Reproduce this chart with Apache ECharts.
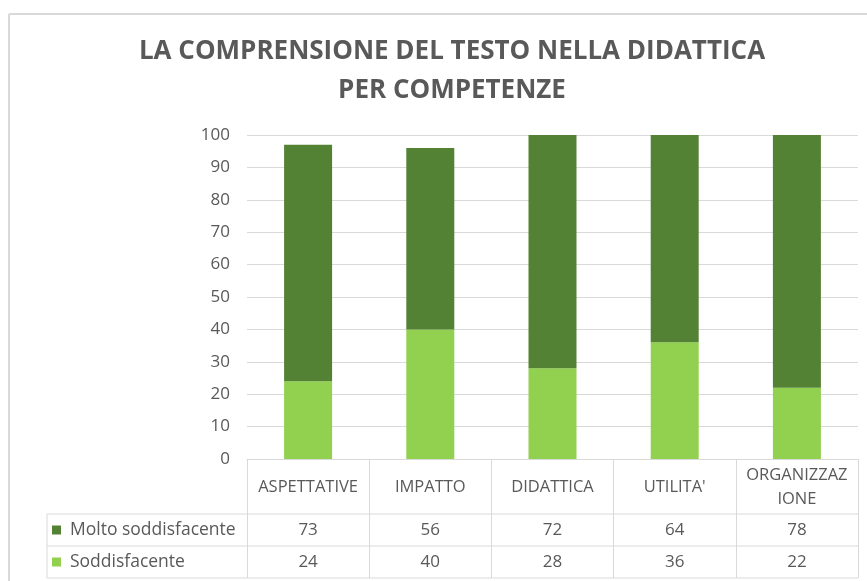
<!DOCTYPE html>
<html>
<head>
<meta charset="utf-8">
<script src="https://cdn.jsdelivr.net/npm/echarts@6/dist/echarts.min.js"></script>
<style>
  html, body { margin: 0; padding: 0; background: #fff; }
  #main { width: 867px; height: 581px; }
</style>
</head>
<body>
<div id="main"></div>
<script>
// categorie e valori
var categories = ['ASPETTATIVE', 'IMPATTO', 'DIDATTICA', "UTILITA'", 'ORGANIZZAZIONE'];
var molto = [73, 56, 72, 64, 78];
var soddisfacente = [24, 40, 28, 36, 22];
var seriesNames = ['Molto soddisfacente', 'Soddisfacente'];
var yTicks = [0, 10, 20, 30, 40, 50, 60, 70, 80, 90, 100];

var colDark = '#548235';
var colLight = '#92d050';
var txt = '#595959';
var lineCol = '#d9d9d9';
var font = 'Open Sans';

var chart = echarts.init(document.getElementById('main'));

var option = {
    animation: false,
    title: {
        text: 'LA COMPRENSIONE DEL TESTO NELLA DIDATTICA\nPER COMPETENZE',
        left: 447,
        top: 27,
        textAlign: 'center',
        textStyle: { fontFamily: font, fontSize: 26, fontWeight: 'bold', color: txt, lineHeight: 39 }
    },
    grid: { left: 247, right: 9, top: 135, bottom: 122 },
    xAxis: {
        type: 'category',
        data: categories,
        axisLine: { lineStyle: { color: lineCol } },
        axisTick: { show: true, length: 119, lineStyle: { color: lineCol } },
        axisLabel: {
            interval: 0,
            margin: 28,
            verticalAlign: 'middle',
            color: txt,
            fontFamily: font,
            fontSize: 16.5,
            lineHeight: 24,
            formatter: function (s) {
                // a capo come in Excel quando non ci sta nella cella
                return s.length > 11 ? s.slice(0, 10) + '\n' + s.slice(10) : s;
            }
        }
    },
    yAxis: {
        type: 'value',
        min: yTicks[0],
        max: yTicks[yTicks.length - 1],
        interval: 10,
        axisLine: { show: false },
        axisTick: { show: false },
        splitLine: { lineStyle: { color: lineCol } },
        axisLabel: { margin: 17, color: txt, fontFamily: font, fontSize: 17 }
    },
    series: [
        {
            name: seriesNames[1],
            type: 'bar',
            stack: 'tot',
            barWidth: 48,
            itemStyle: { color: colLight },
            data: soddisfacente
        },
        {
            name: seriesNames[0],
            type: 'bar',
            stack: 'tot',
            barWidth: 48,
            itemStyle: { color: colDark },
            data: molto
        }
    ]
};

chart.setOption(option);

// tabella dati sotto l'asse
var rows = [
    { name: seriesNames[0], color: colDark, values: molto },
    { name: seriesNames[1], color: colLight, values: soddisfacente }
];
var tableLeft = 47, headBottom = 514, rowH = 32;
var gridRight = 858;
var g = [];

// bordo del grafico
g.push({ type: 'line', shape: { x1: 9, y1: 14, x2: 867, y2: 14 }, style: { stroke: lineCol, lineWidth: 2 } });
g.push({ type: 'line', shape: { x1: 9, y1: 14, x2: 9, y2: 581 }, style: { stroke: lineCol, lineWidth: 2 } });

for (var r = 0; r <= rows.length; r++) {
    var y = headBottom + r * rowH;
    g.push({ type: 'line', shape: { x1: tableLeft, y1: y, x2: gridRight, y2: y }, style: { stroke: lineCol, lineWidth: 1 } });
}
g.push({ type: 'line', shape: { x1: tableLeft, y1: headBottom, x2: tableLeft, y2: headBottom + rows.length * rowH }, style: { stroke: lineCol, lineWidth: 1 } });

rows.forEach(function (row, ri) {
    var cy = headBottom + ri * rowH + rowH / 2;
    g.push({ type: 'rect', shape: { x: 52, y: cy - 4.5, width: 9, height: 9 }, style: { fill: row.color } });
    g.push({ type: 'text', x: 70, y: cy, style: { text: row.name, fill: txt, font: '17.5px "' + font + '"', verticalAlign: 'middle' } });
    row.values.forEach(function (v, i) {
        var cx = chart.convertToPixel({ xAxisIndex: 0 }, i);
        g.push({ type: 'text', x: cx, y: cy, style: { text: String(v), fill: txt, font: '17px "' + font + '"', align: 'center', verticalAlign: 'middle' } });
    });
});

chart.setOption({ graphic: g });
</script>
</body>
</html>
